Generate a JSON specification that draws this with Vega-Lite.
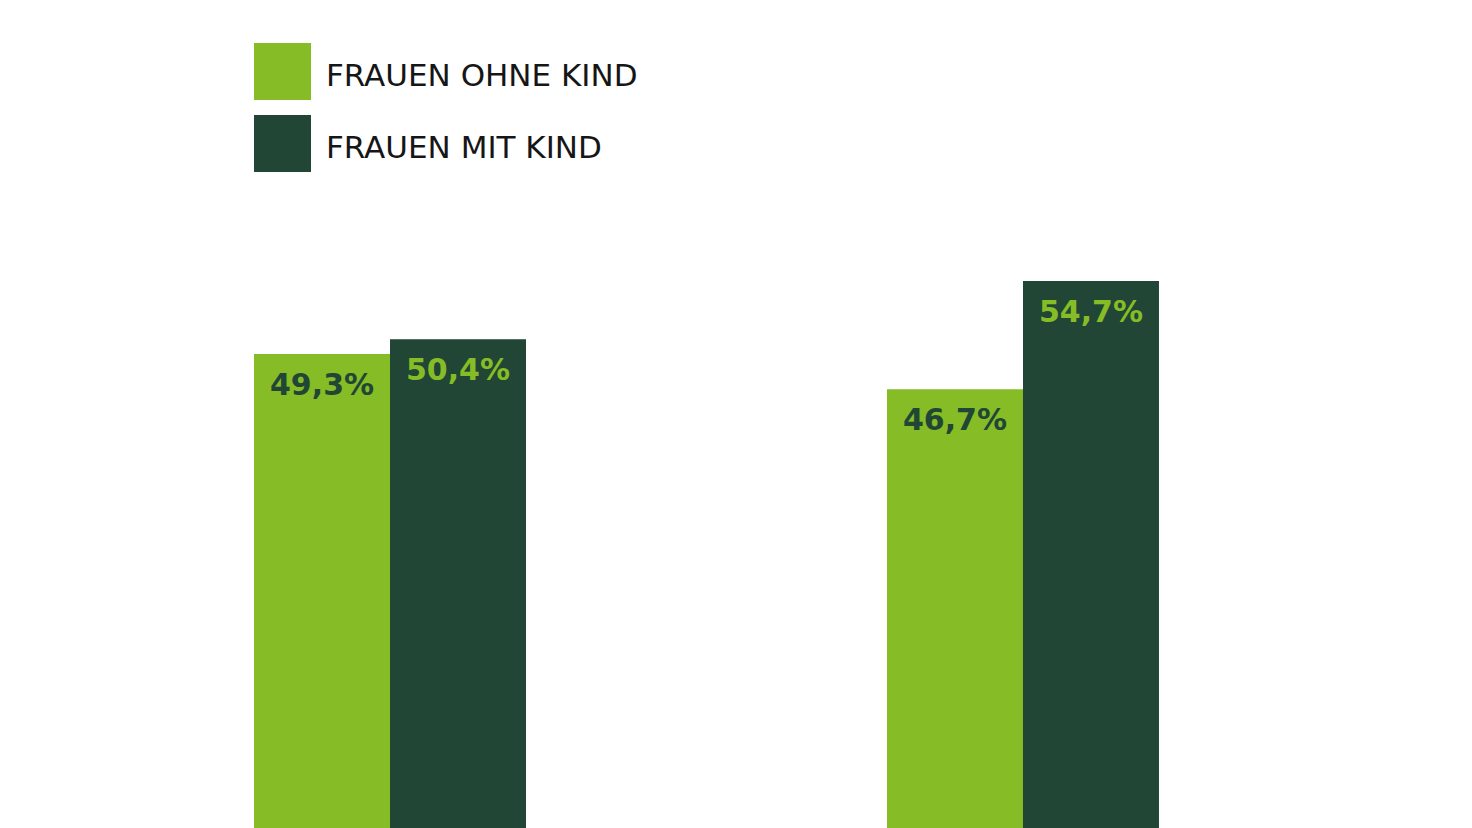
{
  "$schema": "https://vega.github.io/schema/vega-lite/v6.json",
  "width": 1413,
  "height": 828,
  "autosize": {"type": "none"},
  "padding": 0,
  "background": "white",
  "config": {
    "view": {"stroke": null},
    "locale": {"number": {"decimal": ",", "thousands": ".", "grouping": [3], "currency": ["", " €"]}}
  },
  "data": {
    "values": [
      {"gruppe": "Gruppe 1", "kategorie": "FRAUEN OHNE KIND", "anteil": 0.493},
      {"gruppe": "Gruppe 1", "kategorie": "FRAUEN MIT KIND", "anteil": 0.504},
      {"gruppe": "Gruppe 2", "kategorie": "FRAUEN OHNE KIND", "anteil": 0.467},
      {"gruppe": "Gruppe 2", "kategorie": "FRAUEN MIT KIND", "anteil": 0.547}
    ]
  },
  "encoding": {
    "x": {
      "field": "gruppe",
      "type": "nominal",
      "axis": null,
      "scale": {"paddingInner": 0.5703, "paddingOuter": 0.4013}
    },
    "xOffset": {
      "field": "kategorie",
      "type": "nominal",
      "sort": ["FRAUEN OHNE KIND", "FRAUEN MIT KIND"],
      "scale": {"paddingInner": 0, "paddingOuter": 0}
    },
    "y": {
      "field": "anteil",
      "type": "quantitative",
      "axis": null,
      "scale": {"domain": [0.1424, 0.7549], "zero": false, "nice": false}
    }
  },
  "layer": [
    {
      "mark": {"type": "bar", "clip": true},
      "encoding": {
        "color": {
          "field": "kategorie",
          "type": "nominal",
          "scale": {
            "domain": ["FRAUEN OHNE KIND", "FRAUEN MIT KIND"],
            "range": ["#86bc25", "#214636"]
          },
          "legend": {
            "title": null,
            "orient": "none",
            "legendX": 254,
            "legendY": 43,
            "padding": 0,
            "symbolType": "square",
            "symbolSize": 3249,
            "symbolStrokeWidth": 0,
            "symbolOpacity": 1,
            "labelFont": "DejaVu Sans",
            "labelFontSize": 31,
            "labelColor": "#161616",
            "labelOffset": 15,
            "rowPadding": 15,
            "labelLimit": 600,
            "encode": {"labels": {"update": {"dy": {"value": 5}}}}
          }
        }
      }
    },
    {
      "mark": {
        "type": "text",
        "dy": 32,
        "baseline": "middle",
        "align": "center",
        "font": "DejaVu Sans",
        "fontWeight": "bold",
        "fontSize": 30
      },
      "encoding": {
        "text": {"field": "anteil", "type": "quantitative", "format": ".1%"},
        "color": {
          "field": "kategorie",
          "type": "nominal",
          "scale": {
            "domain": ["FRAUEN OHNE KIND", "FRAUEN MIT KIND"],
            "range": ["#214636", "#86bc25"]
          },
          "legend": null
        }
      }
    }
  ],
  "resolve": {"scale": {"color": "independent"}}
}
